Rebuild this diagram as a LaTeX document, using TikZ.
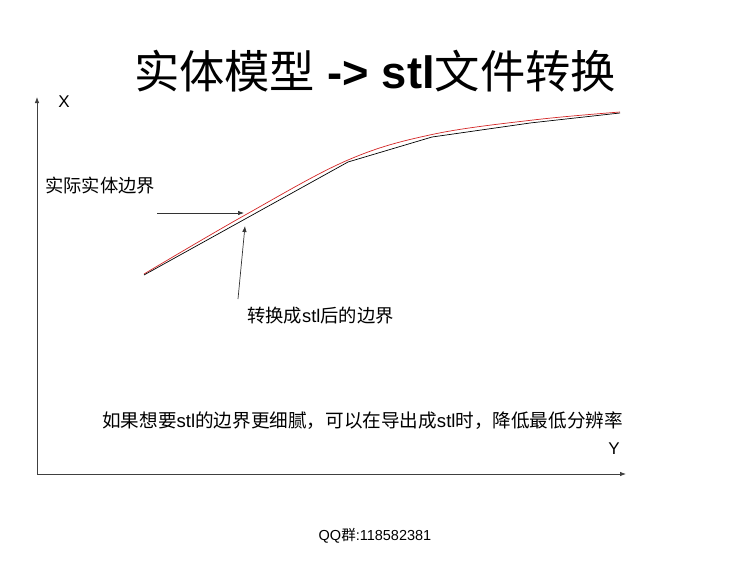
\documentclass[tikz,border=0pt]{standalone}
\usepackage{fontspec}
\setmainfont{Liberation Sans}
\newfontfamily\cjk{Noto Sans CJK SC}
\usetikzlibrary{arrows.meta}
\begin{document}
\begin{tikzpicture}[x=1pt,y=-1pt,
  axisline/.style={draw=black!75, line width=0.8pt, -{Latex[length=6pt,width=4.5pt]}},
  pointer/.style={draw=black!80, line width=0.7pt, -{Latex[length=6pt,width=4.5pt]}},
  lbl/.style={inner sep=0pt, anchor=west, font=\fontsize{18.3}{18.3}\selectfont},
  ]
\useasboundingbox (0,0) rectangle (750,563);
\fill[white] (0,0) rectangle (750,563);
% title
\node[inner sep=0pt] (title) at (375,71) {\fontsize{45.3}{45.3}\selectfont{\cjk 实体模型} \textbf{-> stl}{\cjk 文件转换}};
% axes
\coordinate (o) at (37,474);
\coordinate (xe) at (37,97);
\coordinate (ye) at (626,474);
\draw[axisline] (o) -- (xe);
\draw[axisline] (o) -- (ye);
\node[inner sep=0pt, font=\fontsize{17}{17}\selectfont] (xl) at (64,102) {X};
\node[inner sep=0pt, font=\fontsize{17}{17}\selectfont] (yl) at (614,449) {Y};
% curves
\draw[red!80!black!85, line width=0.7pt] plot[smooth, tension=0.6] coordinates {(144,274) (246,214.5) (348,160) (432,134.5) (533,120) (620,112)};
\draw[black, line width=0.7pt] (144,275) -- (348,162) -- (432,137) -- (530,123) -- (620,113);
% labels
\node[lbl] (l1) at (45,186) {\cjk 实际实体边界};
\node[lbl] (l2) at (247,316) {{\cjk 转换成}stl{\cjk 后的边界}};
\coordinate (a1s) at (157,213);
\coordinate (a1e) at (244,213);
\coordinate (a2s) at (238,299);
\coordinate (a2e) at (245,226);
\draw[pointer] (a1s) -- (a1e);
\draw[pointer] (a2s) -- (a2e);
\node[lbl, font=\fontsize{18.6}{18.6}\selectfont] (note) at (102,421) {{\cjk 如果想要}stl{\cjk 的边界更细腻，可以在导出成}stl{\cjk 时，降低最低分辨率}};
\node[inner sep=0pt, font=\fontsize{14.5}{14.5}\selectfont] (qq) at (375,536) {QQ{\cjk 群}:118582381};
\end{tikzpicture}
\end{document}
